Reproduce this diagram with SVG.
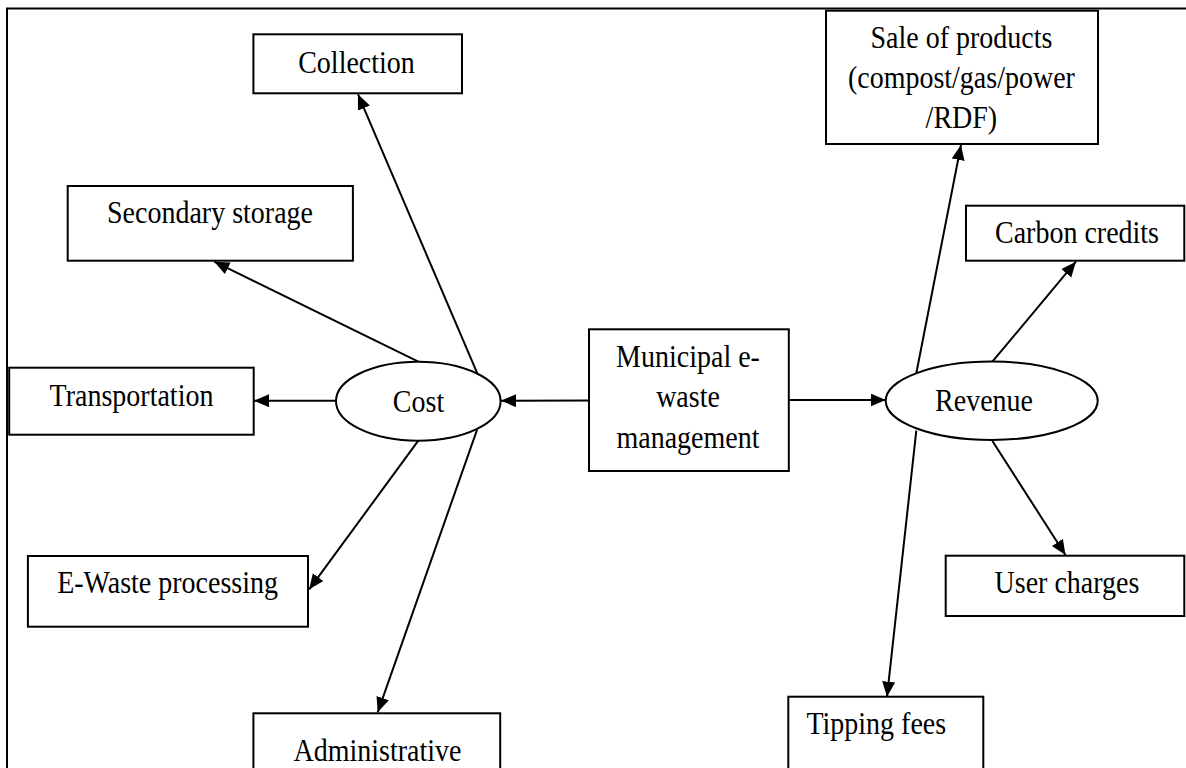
<svg xmlns="http://www.w3.org/2000/svg" width="1186" height="768" viewBox="0 0 1186 768">
  <defs>
    <marker id="arrow" markerUnits="userSpaceOnUse" markerWidth="16" markerHeight="14" refX="15" refY="6.5" orient="auto">
      <path d="M0,0 L15,6.5 L0,13 Z" fill="#000"/>
    </marker>
    <style>
      .box { fill: #fff; stroke: #000; stroke-width: 2; }
      .oval { fill: #fff; stroke: #000; stroke-width: 2; }
      .frame { fill: none; stroke: #000; stroke-width: 2; }
      .link { fill: none; stroke: #000; stroke-width: 2; marker-end: url(#arrow); }
      .t { font-family: "Liberation Serif", "Times New Roman", serif; font-size: 28px; fill: #000; text-anchor: middle; }
    </style>
  </defs>

  <rect width="1186" height="768" fill="#fff"/>
  <path class="frame" d="M7,768 V8.5 H1186"/>

  <!-- connectors -->
  <g id="connectors">
    <line class="link" x1="589" y1="400.5" x2="501" y2="400.7"/>
    <line class="link" x1="336" y1="400.7" x2="254" y2="400.7"/>
    <line class="link" x1="418.3" y1="361.7" x2="214.3" y2="261.7"/>
    <line class="link" x1="477.2" y1="373.2" x2="358" y2="94.3"/>
    <line class="link" x1="418.3" y1="440.7" x2="309.2" y2="589.3"/>
    <line class="link" x1="477.2" y1="429.3" x2="377.7" y2="712.3"/>
    <line class="link" x1="788.8" y1="400" x2="885.7" y2="400"/>
    <line class="link" x1="916.3" y1="373.2" x2="961" y2="145"/>
    <line class="link" x1="992.4" y1="361.7" x2="1075.9" y2="261.7"/>
    <line class="link" x1="992.4" y1="441" x2="1065.5" y2="555"/>
    <line class="link" x1="916.3" y1="430.7" x2="887" y2="696.7"/>
  </g>

  <!-- central node -->
  <g id="municipal">
    <rect class="box" x="589" y="329.3" width="199.8" height="141.7"/>
    <text class="t" transform="translate(688,366.7) scale(1,1.12)"><tspan x="0" y="0">Municipal e-</tspan><tspan x="0" y="35.7">waste</tspan><tspan x="0" y="72.8">management</tspan></text>
  </g>

  <!-- cost side -->
  <g id="cost">
    <ellipse class="oval" cx="418.3" cy="401.2" rx="82.3" ry="39.5"/>
    <text class="t" transform="translate(418.5,411.7) scale(1,1.12)">Cost</text>
  </g>
  <g id="collection">
    <rect class="box" x="253.4" y="34.3" width="208.6" height="59"/>
    <text class="t" transform="translate(356.5,72.7) scale(1,1.12)">Collection</text>
  </g>
  <g id="secondary-storage">
    <rect class="box" x="67.7" y="186" width="285.2" height="74.7"/>
    <text class="t" transform="translate(210,222.7) scale(1,1.12)">Secondary storage</text>
  </g>
  <g id="transportation">
    <rect class="box" x="9.2" y="367.7" width="244.5" height="67"/>
    <text class="t" transform="translate(131.5,406) scale(1,1.12)">Transportation</text>
  </g>
  <g id="e-waste-processing">
    <rect class="box" x="27.9" y="556" width="280.1" height="70.7"/>
    <text class="t" transform="translate(167.6,593.3) scale(1,1.12)">E-Waste processing</text>
  </g>
  <g id="administrative">
    <rect class="box" x="253.4" y="713.3" width="246.8" height="70"/>
    <text class="t" transform="translate(377.5,761) scale(1,1.12)">Administrative</text>
  </g>

  <!-- revenue side -->
  <g id="revenue">
    <ellipse class="oval" cx="991.7" cy="400.8" rx="106" ry="39.2"/>
    <text class="t" transform="translate(984,411) scale(1,1.12)">Revenue</text>
  </g>
  <g id="sale-of-products">
    <rect class="box" x="826" y="10.7" width="272" height="133.3"/>
    <text class="t" transform="translate(961.4,48.3) scale(1,1.12)"><tspan x="0" y="0">Sale of products</tspan><tspan x="0" y="35.7">(compost/gas/power</tspan><tspan x="0" y="71.4">/RDF)</tspan></text>
  </g>
  <g id="carbon-credits">
    <rect class="box" x="966" y="205.7" width="218.3" height="55"/>
    <text class="t" transform="translate(1077,243.3) scale(1,1.12)">Carbon credits</text>
  </g>
  <g id="user-charges">
    <rect class="box" x="945.7" y="555.7" width="238.6" height="60.3"/>
    <text class="t" transform="translate(1067,593.3) scale(1,1.12)">User charges</text>
  </g>
  <g id="tipping-fees">
    <rect class="box" x="788.3" y="696.7" width="195" height="90"/>
    <text class="t" transform="translate(876.3,734.3) scale(1,1.12)">Tipping fees</text>
  </g>
</svg>
